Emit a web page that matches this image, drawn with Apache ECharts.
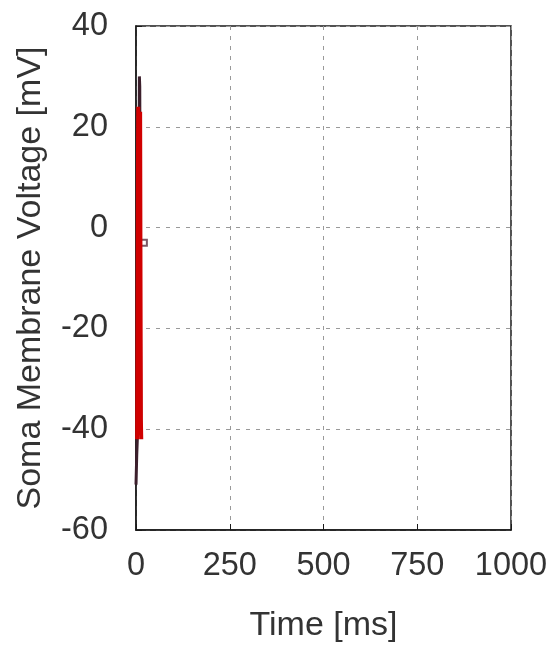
<!DOCTYPE html>
<html>
<head>
<meta charset="utf-8">
<script src="https://cdn.jsdelivr.net/npm/echarts@6/dist/echarts.min.js"></script>
<style>html,body{margin:0;padding:0;background:#fff}#c{width:551px;height:648px}</style>
</head>
<body>
<div id="c"></div>
<script>
const xTicks = [0, 250, 500, 750, 1000];
const yTicks = [-60, -40, -20, 0, 20, 40];
const tDark = [0, 1, 2, 3, 4, 6, 8, 9, 10, 11, 12, 13];
const vDark = [-51, -48, -45, -43, -41, -20, 10, 30, 28, 5, -20, -40];
const tRed = [3, 4, 5, 6, 7, 8, 9, 10, 11, 12, 13, 14];
const vRed = [-42, -20, 10, 24, 5, -30, -41, 0, 23, -10, -38, -42];
const tMark = [21];
const vMark = [-3];

const zip = (a, b) => a.map((x, i) => [x, b[i]]);
const chart = echarts.init(document.getElementById('c'));
const font = 'Liberation Sans, Arial, sans-serif';
const fs = 32.5;
const fsName = 34;
const txt = '#333';
chart.setOption({
  animation: false,
  grid: { left: 136, right: 40, top: 26, bottom: 116, show: true, borderColor: '#1a1a1a', borderWidth: 1.5, backgroundColor: 'transparent' },
  xAxis: {
    type: 'value', min: xTicks[0], max: xTicks[xTicks.length - 1], interval: 250,
    name: 'Time [ms]', nameLocation: 'middle', nameGap: 79,
    nameTextStyle: { fontFamily: font, fontSize: fsName, color: txt },
    axisLine: { show: true, onZero: false, lineStyle: { color: '#1a1a1a', width: 1.5 } },
    axisTick: { show: true, inside: true, length: 6, lineStyle: { color: '#1a1a1a' } },
    axisLabel: { fontFamily: font, fontSize: fs, color: txt, margin: 20, formatter: v => String(v) },
    splitLine: { show: true, lineStyle: { type: [4, 6], color: '#999', width: 1 } }
  },
  yAxis: {
    type: 'value', min: yTicks[0], max: yTicks[yTicks.length - 1], interval: 20,
    name: 'Soma Membrane Voltage [mV]', nameLocation: 'middle', nameGap: 88,
    nameTextStyle: { fontFamily: font, fontSize: fsName, color: txt },
    axisLine: { show: true, onZero: false, lineStyle: { color: '#1a1a1a', width: 1.5 } },
    axisTick: { show: true, inside: true, length: 6, lineStyle: { color: '#1a1a1a' } },
    axisLabel: { fontFamily: font, fontSize: fs, color: txt, margin: 28, formatter: v => String(v) },
    splitLine: { show: true, lineStyle: { type: [4, 6], color: '#999', width: 1 } }
  },
  series: [
    { type: 'line', data: zip(tDark, vDark), showSymbol: false, lineStyle: { color: '#3c1f2c', width: 3 } },
    { type: 'line', data: zip(tRed, vRed), showSymbol: false, lineStyle: { color: '#d00000', width: 4 } },
    { type: 'scatter', data: zip(tMark, vMark), symbol: 'emptyRect', symbolSize: 6, itemStyle: { color: '#5a3040', borderColor: '#5a3040', borderWidth: 1 } }
  ]
});
</script>
</body>
</html>
